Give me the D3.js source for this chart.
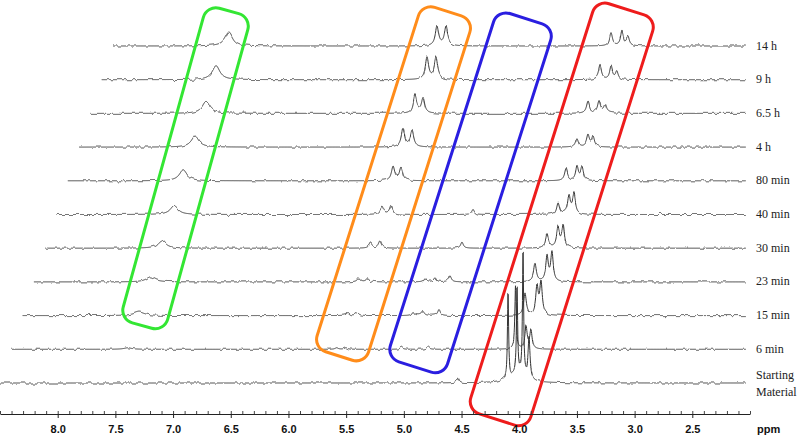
<!DOCTYPE html>
<html><head><meta charset="utf-8">
<script src="https://cdn.jsdelivr.net/npm/d3@7"></script>
<style>html,body{margin:0;padding:0;background:#fff;} svg{display:block;}</style>
</head><body>
<svg id="chart" width="800" height="437"></svg>
<script>
// ---------- DATA ----------
// rows from bottom (index 0) to top (index 10)
const rowLabels = ["Starting Material", "6 min", "15 min", "23 min", "30 min", "40 min", "80 min", "4 h", "6.5 h", "9 h", "14 h"];

// peaks: [chemical shift ppm, intensity, half-width ppm]
const peaksStarting = [[4.530, 5, 0.012], [4.097, 86, 0.006], [4.019, 88, 0.006], [3.967, 125, 0.006], [3.915, 42, 0.01], [4.02, 8, 0.08]];
const peaks6min  = [[7.49, 1.5, 0.04], [5.68, 1.5, 0.016], [5.60, 1.5, 0.016], [5.12, 2, 0.014], [4.89, 2.5, 0.014], [4.13, 64, 0.007], [4.039, 22, 0.012], [3.996, 19, 0.012]];
const peaks15min = [[7.49, 3.5, 0.055], [5.68, 3, 0.016], [5.60, 3, 0.016], [5.116, 4, 0.014], [5.030, 4, 0.014], [4.891, 6, 0.014], [4.146, 22, 0.014], [4.042, 28, 0.013], [4.007, 32, 0.013]];
const peaks23min = [[7.49, 5, 0.045], [5.683, 4, 0.016], [5.605, 4, 0.016], [5.110, 4, 0.014], [5.024, 4, 0.014], [4.894, 6, 0.014], [4.157, 18, 0.014], [4.053, 25, 0.013], [4.010, 29, 0.013]];
const peaks30min = [[7.49, 8, 0.04], [5.68, 5, 0.016], [5.60, 7, 0.016], [4.888, 6, 0.014], [4.151, 15, 0.015], [4.056, 20, 0.014], [4.012, 22, 0.014]];
const peaks40min = [[7.48, 9, 0.04], [5.68, 8, 0.017], [5.60, 9, 0.017], [4.890, 5, 0.014], [4.153, 12, 0.015], [4.058, 19, 0.014], [4.015, 20, 0.014]];
const peaks80min = [[7.50, 11, 0.04], [5.681, 14, 0.017], [5.612, 13, 0.017], [4.182, 12, 0.015], [4.087, 14, 0.014], [4.043, 13, 0.014]];
const peaks4h    = [[7.495, 11, 0.04], [5.693, 19, 0.017], [5.615, 17, 0.017], [4.185, 9, 0.015], [4.090, 11, 0.014], [4.045, 10, 0.014]];
const peaks6_5h  = [[7.498, 12, 0.04], [5.687, 18, 0.017], [5.617, 15, 0.017], [4.187, 12, 0.016], [4.092, 12, 0.015], [4.040, 8, 0.015]];
const peaks9h    = [[7.509, 14, 0.04], [5.681, 22, 0.017], [5.603, 22, 0.017], [4.181, 14, 0.015], [4.086, 13, 0.014], [4.036, 8, 0.014]];
const peaks14h   = [[7.495, 14, 0.04], [5.692, 20, 0.017], [5.614, 19, 0.017], [4.184, 13, 0.015], [4.089, 15, 0.014], [4.037, 9, 0.014]];

const rowPeaks = [peaksStarting, peaks6min, peaks15min, peaks23min, peaks30min, peaks40min, peaks80min, peaks4h, peaks6_5h, peaks9h, peaks14h];

const majorTicks = [8.0, 7.5, 7.0, 6.5, 6.0, 5.5, 5.0, 4.5, 4.0, 3.5, 3.0, 2.5];
const axisUnit = "ppm";

// highlight boxes: top / bottom centre in [axis ppm, row], width in ppm
const boxTop    = [[6.515, 11.04], [4.617, 11.02], [3.941, 10.81], [3.070, 11.09]];
const boxBottom = [[7.269, 1.706], [5.562, 0.801], [4.903, 0.475], [4.193, -1.083]];
const boxWidth  = [0.40, 0.468, 0.52, 0.546];
const boxColors = ["#33e633", "#ff8c1a", "#2a1ee0", "#ee1c1c"];

// ---------- LAYOUT ----------
const svg = d3.select("#chart");
const x = d3.scaleLinear().domain([8.5, 2.0]).range([0, 750]);
const rowY = d3.scaleLinear().domain([0, 10]).range([383, 46]);
const inten = d3.scaleLinear().domain([0, 100]).range([0, 100]);
const skewPx = 11.3;                     // horizontal stacking offset per row
const skewPpm = x.invert(0) - x.invert(skewPx);
const traceEndX = 746;

// baseline noise texture (style only)
const defs = svg.append("defs");
const f = defs.append("filter").attr("id", "noise").attr("filterUnits", "userSpaceOnUse")
  .attr("x", 0).attr("y", 0).attr("width", 800).attr("height", 437)
  .attr("color-interpolation-filters", "sRGB");
f.append("feTurbulence").attr("type", "fractalNoise").attr("baseFrequency", "0.22 0.04")
  .attr("numOctaves", 2).attr("seed", 7).attr("result", "t");
f.append("feColorMatrix").attr("in", "t").attr("type", "matrix")
  .attr("values", "0 0 0 0 0.5  0 1 0 0 0  0 0 0 0 0  0 0 0 0 1").attr("result", "m");
f.append("feDisplacementMap").attr("in", "SourceGraphic").attr("in2", "m")
  .attr("scale", 4.5).attr("xChannelSelector", "R").attr("yChannelSelector", "G");

function spectrum(ppm, peaks) {
  let s = 0;
  for (const [p, h, w] of peaks) { const d = ppm - p; s += h * w * w / (d * d + w * w); }
  return s;
}

const line = d3.line().x(d => d[0]).y(d => d[1]);
const traces = svg.append("g").attr("filter", "url(#noise)");
rowPeaks.forEach((peaks, i) => {
  const shift = i * skewPpm;
  const endOwn = x.invert(traceEndX) + shift;
  const pts = d3.range(8.5, endOwn, -0.002).map(p => [x(p - shift), rowY(i) - inten(spectrum(p, peaks))]);
  traces.append("path").attr("d", line(pts)).attr("fill", "none")
    .attr("stroke", "#333").attr("stroke-width", 1).attr("stroke-linejoin", "round");
});

// row labels
const labels = svg.append("g").attr("font-family", "Liberation Serif, Times New Roman, serif")
  .attr("font-size", 12).attr("fill", "#222");
rowLabels.forEach((t, i) => {
  if (i === 0) {
    const parts = t.split(" ");
    labels.append("text").attr("x", 756).attr("y", rowY(i) - 4).text(parts[0]);
    labels.append("text").attr("x", 756).attr("y", rowY(i) + 13).text(parts[1]);
  } else {
    labels.append("text").attr("x", 756).attr("y", rowY(i) + 3.5).text(t);
  }
});

// highlight boxes
boxTop.forEach((t, k) => {
  const tx = x(t[0]), ty = rowY(t[1]);
  const bx = x(boxBottom[k][0]), by = rowY(boxBottom[k][1]);
  const cx = (tx + bx) / 2, cy = (ty + by) / 2;
  const L = Math.hypot(tx - bx, ty - by);
  const ang = Math.atan2(tx - bx, by - ty) * 180 / Math.PI;
  const w = Math.abs(x(0) - x(boxWidth[k]));
  svg.append("rect").attr("transform", `translate(${cx},${cy}) rotate(${ang})`)
    .attr("x", -w / 2).attr("y", -L / 2).attr("width", w).attr("height", L)
    .attr("rx", 13).attr("ry", 13).attr("fill", "none")
    .attr("stroke", boxColors[k]).attr("stroke-width", 3);
});

// axis
const axisY = 414;
const gMinor = svg.append("g").attr("transform", `translate(0,${axisY})`)
  .call(d3.axisTop(x).tickValues(d3.range(85, 19, -1).map(d => d / 10)).tickSize(3).tickSizeOuter(0).tickFormat(""));
gMinor.select(".domain").attr("stroke", "#222");
gMinor.selectAll(".tick line").attr("stroke", "#444");
const gMajor = svg.append("g").attr("transform", `translate(0,${axisY})`)
  .call(d3.axisBottom(x).tickValues(majorTicks).tickSize(4).tickSizeOuter(0).tickFormat(d3.format(".1f")));
gMajor.select(".domain").remove();
gMajor.selectAll(".tick line").attr("stroke", "#222");
gMajor.selectAll(".tick text").attr("font-family", "Liberation Sans, Arial, sans-serif")
  .attr("font-weight", "bold").attr("font-size", 11).attr("fill", "#111").attr("dy", null).attr("y", 19);
svg.append("text").attr("x", 757).attr("y", 433).attr("font-family", "Liberation Sans, Arial, sans-serif")
  .attr("font-weight", "bold").attr("font-size", 11).attr("fill", "#111").text(axisUnit);
</script>
</body></html>
